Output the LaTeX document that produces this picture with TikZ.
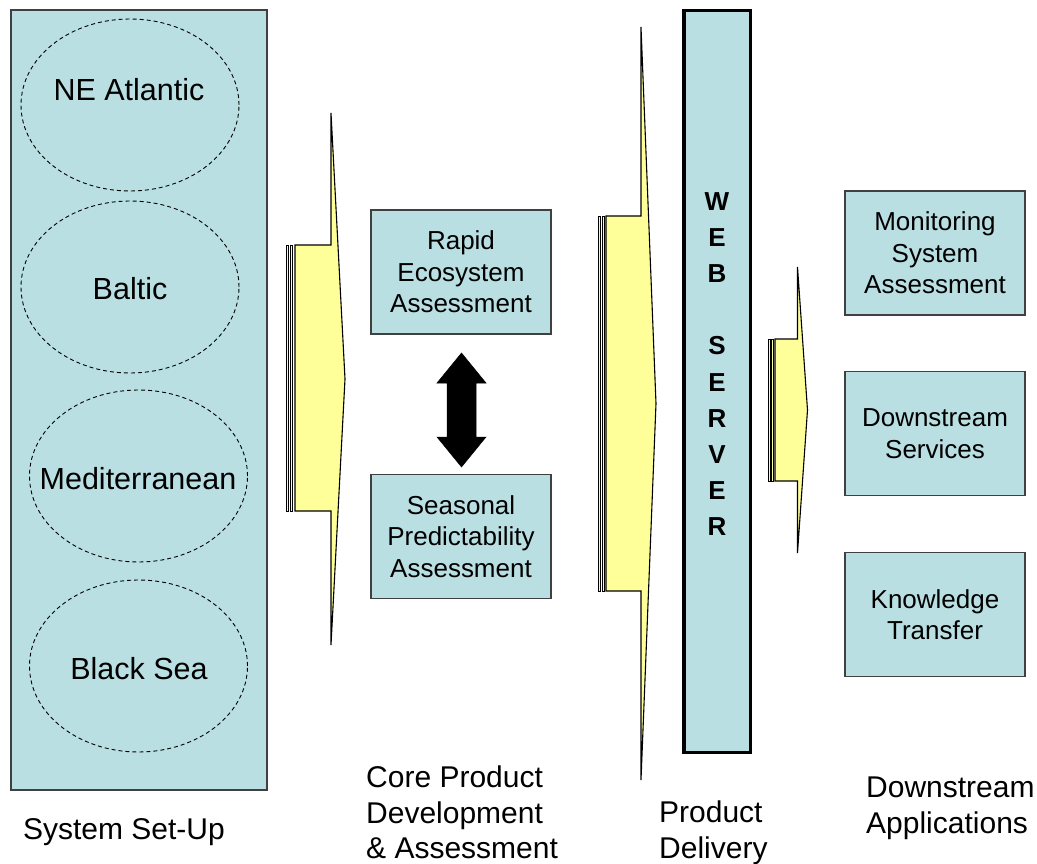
\documentclass[tikz,border=0pt]{standalone}
\usepackage{fontspec}
\setmainfont{Liberation Sans}
\usetikzlibrary{shapes.geometric}
\definecolor{boxfill}{RGB}{185,223,227}
\definecolor{arrowyellow}{RGB}{255,255,153}
\begin{document}
\begin{tikzpicture}[x=1pt,y=-1pt,
  panel/.style={draw=black!75, line width=1.2pt, fill=boxfill, inner sep=0},
  region/.style={ellipse, draw=black, dash pattern=on 4pt off 3pt, line width=0.9pt, minimum width=218pt, minimum height=172pt, inner sep=0},
  regtext/.style={font=\fontsize{30.5}{36}\selectfont, inner sep=0, anchor=base},
  stagebox/.style={draw=black!75, line width=1.2pt, fill=boxfill, minimum width=180pt, minimum height=124pt, inner sep=0, align=center, font=\fontsize{26}{31.5}\selectfont},
  stagelabel/.style={align=left, font=\fontsize{30}{35.5}\selectfont, anchor=north west, inner sep=0},
  bigarrow/.style={fill=arrowyellow, draw=black, line width=1.1pt, line join=miter},
  stripe/.style={fill=arrowyellow, draw=black, line width=0.7pt},
  dblarrow/.style={fill=black, draw=black, line width=0.5pt},
]
\useasboundingbox (0,0) rectangle (1037,864);

% ---------- System set-up panel ----------
\node[panel, minimum width=256pt, minimum height=780pt] (setup) at (139,400) {};
\node[region] (ne) at (130,105) {};
\node[region] (baltic) at (130,287) {};
\node[region] (med) at (138.5,476) {};
\node[region] (black) at (138.5,666) {};
\node[regtext] (netxt) at (129,101) {NE Atlantic};
\node[regtext] (baltictxt) at (130,299) {Baltic};
\node[regtext] (medtxt) at (138,489) {Mediterranean};
\node[regtext] (blacktxt) at (139,679) {Black Sea};

% ---------- Arrow 1 ----------
\draw[stripe] (286.5,245) rectangle (288.5,511);
\draw[stripe] (290.5,245) rectangle (292.5,511);
\draw[bigarrow] (295,245) -- (331,245) -- (331,113) -- (345,379) -- (331,645) -- (331,511) -- (295,511) -- cycle;

% ---------- Core product boxes ----------
\node[stagebox] (rapid) at (461,272) {Rapid\\Ecosystem\\Assessment};
\node[stagebox] (seasonal) at (461,536.5) {Seasonal\\Predictability\\Assessment};
\draw[dblarrow] (461.5,353) -- (486,383) -- (476,383) -- (476,437) -- (486,437) -- (461.5,467)
  -- (437,437) -- (447,437) -- (447,383) -- (437,383) -- cycle;

% ---------- Arrow 2 ----------
\draw[stripe] (598.3,216) rectangle (600.3,591);
\draw[stripe] (602.3,216) rectangle (604.3,591);
\draw[bigarrow] (606,216) -- (641,216) -- (641,27) -- (656,403.5) -- (641,780) -- (641,591) -- (606,591) -- cycle;

% ---------- Web server ----------
\node[draw=black, line width=3.5pt, fill=boxfill, minimum width=66.5pt, minimum height=741.5pt, inner sep=0] (web) at (717,381.5) {};
\node[align=center, inner sep=0, font=\bfseries\fontsize{26}{36.2}\selectfont] (webtxt) at (717,364)
  {W\\E\\B\\\mbox{}\\S\\E\\R\\V\\E\\R};

% ---------- Arrow 3 ----------
\draw[stripe] (768.3,339) rectangle (770.3,481);
\draw[stripe] (771.5,339) rectangle (773.5,481);
\draw[bigarrow] (775,339) -- (797.5,339) -- (797.5,267) -- (807.5,410) -- (797.5,553) -- (797.5,481) -- (775,481) -- cycle;

% ---------- Downstream boxes ----------
\node[stagebox] (monitor) at (935,253) {Monitoring\\System\\Assessment};
\node[stagebox] (services) at (935,433.5) {Downstream\\Services};
\node[stagebox] (knowledge) at (935,614.5) {Knowledge\\Transfer};

% ---------- Stage captions ----------
\node[regtext, font=\fontsize{30}{35.5}\selectfont] (cap1) at (124,839) {System Set-Up};
\node[stagelabel] (cap2) at (366,766) {Core Product\\Development\\\& Assessment};
\node[stagelabel] (cap3) at (659,801) {Product\\Delivery};
\node[stagelabel] (cap4) at (866,777) {Downstream\\Applications};
\end{tikzpicture}
\end{document}
